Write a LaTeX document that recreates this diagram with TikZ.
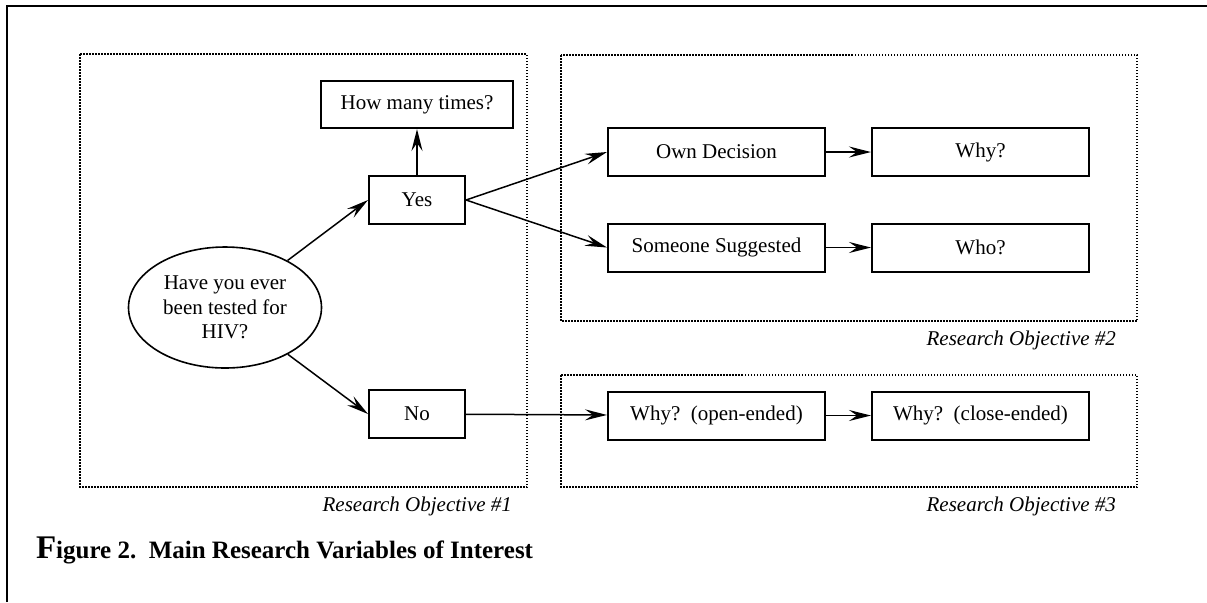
\documentclass[tikz,border=0pt]{standalone}
\usepackage{fontspec}
\setmainfont{Liberation Serif}
\usetikzlibrary{arrows.meta,shapes.geometric}
\begin{document}
\begin{tikzpicture}[x=0.5pt,y=-0.5pt,
  every node/.style={font=\fontsize{10.5}{12.3}\selectfont},
  box/.style={draw, line width=1pt, minimum height=24pt, inner sep=0pt},
  qbox/.style={box, minimum width=48pt},
  wbox/.style={box, minimum width=108.5pt},
  oval/.style={draw, ellipse, line width=0.8pt, minimum width=96.5pt, minimum height=60.5pt, inner sep=0pt, align=center},
  arr/.style={-{Stealth[length=11pt,width=5.5pt,inset=4pt]}, line width=0.75pt},
  dotbox/.style={line width=0.75pt, dash pattern=on 0.75pt off 0.75pt},
  frame/.style={line width=1.1pt},
  objlabel/.style={anchor=base east, font=\fontsize{10.5}{12.3}\selectfont\itshape},
  caption/.style={anchor=base west, font=\fontsize{12.5}{14}\selectfont\bfseries}]
\useasboundingbox (0,0) rectangle (1207,602);
% frame
\draw[frame] (7,602) -- (7,6) -- (1207,6);
% objective regions
\draw[dotbox] (80,54) rectangle (527,487);
\draw[dotbox] (561,55) rectangle (1137,321);
\draw[dotbox] (561,375) rectangle (1137,487);
\node[objlabel] (o1) at (519,511) {Research Objective \#1};
\node[objlabel] (o2) at (1123,345) {Research Objective \#2};
\node[objlabel] (o3) at (1123,511) {Research Objective \#3};
% nodes
\node[oval] (q) at (225,307.5) {Have you ever\\been tested for\\HIV?};
\node[box, minimum width=96pt, minimum height=23.5pt] (many) at (417,104.5) {How many times?};
\node[qbox] (yes) at (417,200) {Yes};
\node[qbox] (no) at (417,414) {No};
\node[wbox] (own) at (716.5,152) {Own Decision};
\node[wbox] (why) at (980.5,152) {Why?};
\node[wbox] (some) at (716.5,247.5) {Someone Suggested};
\node[wbox] (who) at (980.5,247.5) {Who?};
\node[wbox] (whyo) at (716.5,415.5) {Why?\ \ (open-ended)};
\node[wbox] (whyc) at (980.5,415.5) {Why?\ \ (close-ended)};
% connectors
\draw[arr] (q) -- (yes.west);
\draw[arr] (q) -- (no.west);
\draw[arr] (yes) -- (many);
\draw[arr] (yes.east) -- (own.west);
\draw[arr] (yes.east) -- (some.west);
\draw[arr] (own) -- (why);
\draw[arr] (some) -- (who);
\draw[arr] (no) -- (whyo);
\draw[arr] (whyo) -- (whyc);
% caption
\node[caption] (cap) at (29,558) {{\fontsize{16.5}{16}\selectfont F}igure 2.\ \ Main Research Variables of Interest};
\end{tikzpicture}
\end{document}
